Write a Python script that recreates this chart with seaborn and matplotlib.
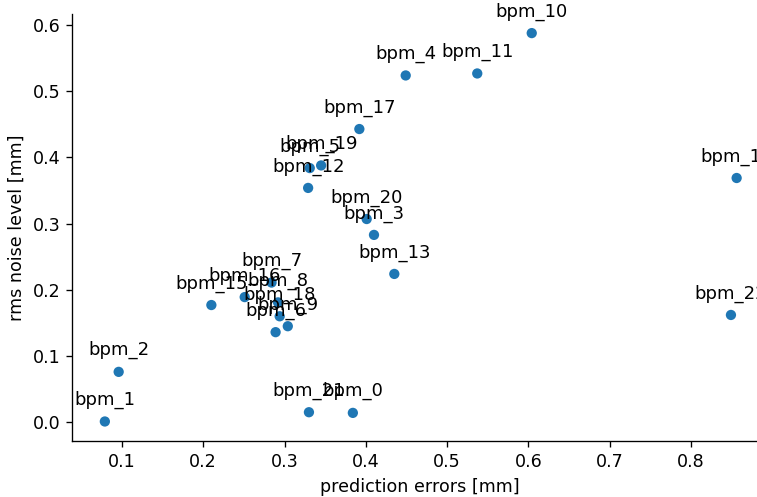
import matplotlib
matplotlib.use("Agg")
import matplotlib.pyplot as plt
import seaborn as sns
import pandas as pd

labels = ["bpm_0", "bpm_1", "bpm_2", "bpm_3", "bpm_4", "bpm_5", "bpm_6", "bpm_7",
          "bpm_8", "bpm_9", "bpm_10", "bpm_11", "bpm_12", "bpm_13", "bpm_14",
          "bpm_15", "bpm_16", "bpm_17", "bpm_18", "bpm_19", "bpm_20", "bpm_21", "bpm_22"]
pred_err = [0.384, 0.079, 0.096, 0.410, 0.449, 0.331, 0.289, 0.284,
            0.292, 0.304, 0.604, 0.537, 0.329, 0.435, 0.856,
            0.210, 0.251, 0.392, 0.294, 0.345, 0.401, 0.330, 0.849]
noise = [0.014, 0.001, 0.076, 0.283, 0.524, 0.384, 0.136, 0.211,
         0.181, 0.145, 0.588, 0.527, 0.354, 0.224, 0.369,
         0.177, 0.189, 0.443, 0.160, 0.388, 0.307, 0.015, 0.162]

df = pd.DataFrame({"label": labels, "pred": pred_err, "noise": noise})

plt.rcParams["font.size"] = 10.5
fig = plt.figure(figsize=(757 / 120, 497 / 120), dpi=120)
ax = fig.add_axes([0.095, 0.112, 0.92, 0.86])
sns.scatterplot(data=df, x="pred", y="noise", ax=ax, color="#1f77b4",
                edgecolor="none", s=38)
for lab, x, y in zip(labels, pred_err, noise):
    ax.annotate(lab, (x, y), textcoords="offset points", xytext=(0, 10),
                ha="center", fontsize=10.8)
ax.set_xlim(0.0385, 0.895)
ax.set_ylim(-0.029, 0.617)
ax.set_xlabel("prediction errors [mm]")
ax.set_ylabel("rms noise level [mm]")
sns.despine(ax=ax)
fig.savefig("out.png", dpi=120)
